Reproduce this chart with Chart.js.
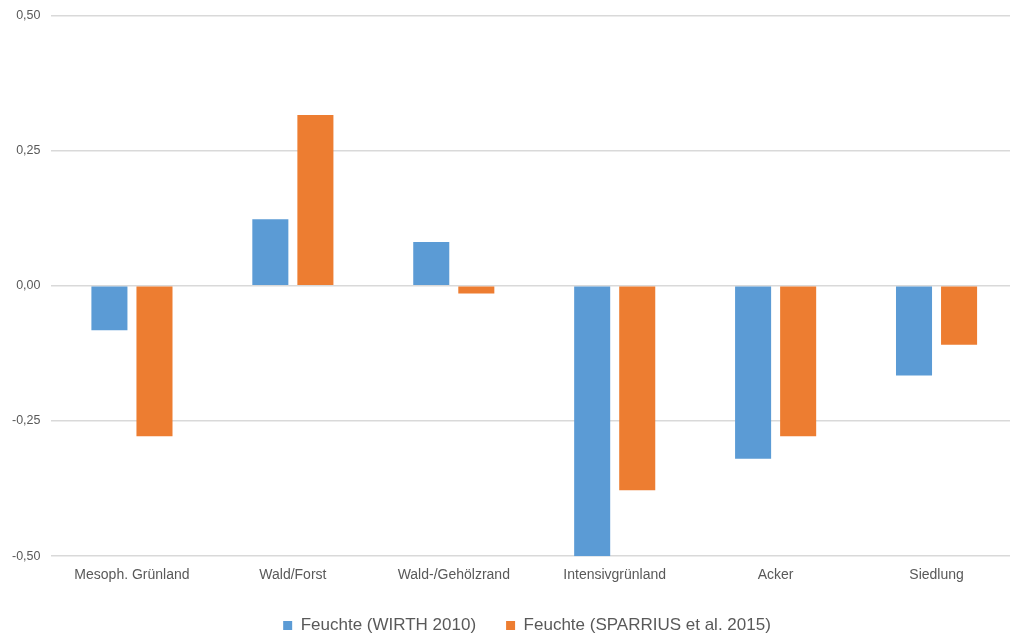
<!DOCTYPE html>
<html>
<head>
<meta charset="utf-8">
<script src="https://cdn.jsdelivr.net/npm/chart.js@4/dist/chart.umd.min.js"></script>
<style>
  html, body { margin: 0; padding: 0; background: #fff; overflow: hidden; }
  /* plot runs slightly past the right edge of the page, as in the export */
  #wrap { width: 1017px; height: 647px; margin-top: -3px; }
</style>
</head>
<body>
<div id="wrap"><canvas id="feuchteChart"></canvas></div>
<script>
var categories = ["Mesoph. Grünland", "Wald/Forst", "Wald-/Gehölzrand", "Intensivgrünland", "Acker", "Siedlung"];
var wirth2010 = [-0.082, 0.123, 0.081, -0.50, -0.320, -0.166];
var sparrius2015 = [-0.278, 0.316, -0.014, -0.378, -0.278, -0.109];
var yTicks = [-0.5, -0.25, 0, 0.25, 0.5];

var textColor = "#595959";
var gridColor = "#d9d9d9";
var fontFamily = "'Liberation Sans', Arial, sans-serif";

function formatDe(v) {
    return v.toFixed(2).replace(".", ",");
}

// legend is centred on the plot area rather than the whole canvas
var legendShift = {
    id: "legendShift",
    afterLayout: function (chart) {
        chart.legend.left += 18;
        chart.legend.right += 18;
    }
};

var ctx = document.getElementById("feuchteChart").getContext("2d");
var myChart = new Chart(ctx, {
    type: "bar",
    data: {
        labels: categories,
        datasets: [
            {
                label: "Feuchte (WIRTH 2010)",
                data: wirth2010,
                backgroundColor: "#5B9BD5",
                categoryPercentage: 0.56,
                barPercentage: 0.8
            },
            {
                label: "Feuchte (SPARRIUS et al. 2015)",
                data: sparrius2015,
                backgroundColor: "#ED7D31",
                categoryPercentage: 0.56,
                barPercentage: 0.8
            }
        ]
    },
    options: {
        responsive: true,
        maintainAspectRatio: false,
        animation: false,
        layout: {
            padding: { top: 0, right: 0, left: 1, bottom: 0 }
        },
        scales: {
            x: {
                grid: { display: false },
                border: { display: false },
                ticks: {
                    color: textColor,
                    font: { family: fontFamily, size: 14 },
                    padding: 3,
                    maxRotation: 0
                }
            },
            y: {
                min: -0.5,
                max: 0.5,
                afterBuildTicks: function (axis) {
                    axis.ticks = yTicks.map(function (v) { return { value: v }; });
                },
                grid: { color: gridColor, lineWidth: 1.5, drawTicks: false },
                border: { display: false },
                ticks: {
                    color: textColor,
                    font: { family: fontFamily, size: 12.5 },
                    padding: 11,
                    callback: function (v) { return formatDe(v); }
                }
            }
        },
        plugins: {
            legend: {
                position: "bottom",
                labels: {
                    color: textColor,
                    font: { family: fontFamily, size: 17 },
                    boxWidth: 9,
                    boxHeight: 9,
                    padding: 30
                }
            },
            tooltip: { enabled: false }
        }
    },
    plugins: [legendShift]
});
</script>
</body>
</html>
